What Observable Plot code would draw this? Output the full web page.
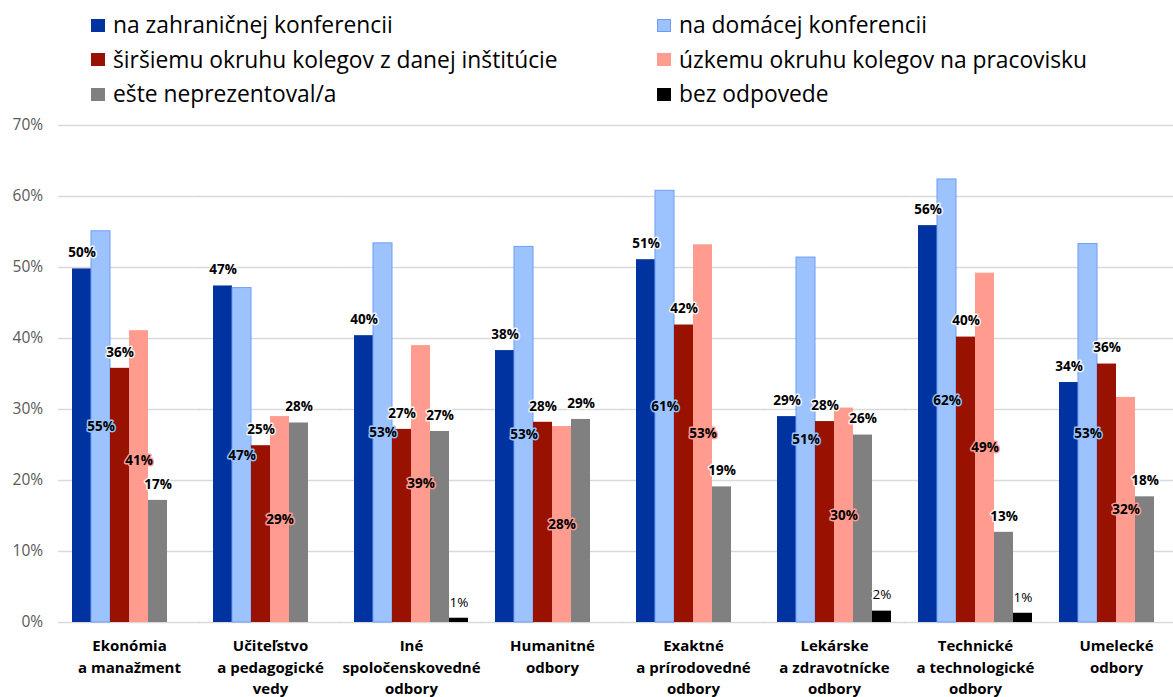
<!DOCTYPE html>
<html>
<head>
<meta charset="utf-8">
<script src="https://cdn.jsdelivr.net/npm/d3@7"></script>
<script src="https://cdn.jsdelivr.net/npm/@observablehq/plot@0.6"></script>
<style>
  html, body { margin: 0; padding: 0; background: #fff; overflow: hidden; }
  body { width: 1173px; height: 697px; position: relative; font-family: "Open Sans", sans-serif; }
  #legend { position: relative; height: 110px; width: 1173px; }
  .item { position: absolute; display: flex; align-items: center; font-size: 22.8px; color: #000; line-height: 34px; white-space: nowrap; }
  .sw { width: 14px; height: 13px; margin-right: 8px; box-sizing: border-box; }
  #chart { position: absolute; left: 0; top: 110px; }
  #chart svg { max-width: none !important; }
</style>
</head>
<body>
<div id="legend"></div>
<div id="chart"></div>
<script>
// ---- data ----
const categories = [
  "Ekonómia\na manažment",
  "Učiteľstvo\na pedagogické\nvedy",
  "Iné\nspoločenskovedné\nodbory",
  "Humanitné\nodbory",
  "Exaktné\na prírodovedné\nodbory",
  "Lekárske\na zdravotnícke\nodbory",
  "Technické\na technologické\nodbory",
  "Umelecké\nodbory"
];
const seriesNames = [
  "na zahraničnej konferencii",
  "na domácej konferencii",
  "širšiemu okruhu kolegov z danej inštitúcie",
  "úzkemu okruhu kolegov na pracovisku",
  "ešte neprezentoval/a",
  "bez odpovede"
];
const seriesColors = ["#0033a0", "#9dc3ff", "#991100", "#ff9b8f", "#808080", "#000000"];
const zahranicna    = [49.8, 47.4, 40.4, 38.3, 51.1, 29.0, 55.9, 33.8];
const domaca        = [55.1, 47.1, 53.4, 52.9, 60.8, 51.4, 62.4, 53.3];
const sirsiemu      = [35.8, 24.9, 27.2, 28.2, 41.9, 28.3, 40.2, 36.4];
const uzkemu        = [41.1, 29.0, 39.0, 27.6, 53.2, 30.2, 49.2, 31.7];
const neprezentoval = [17.2, 28.1, 26.9, 28.6, 19.1, 26.4, 12.7, 17.7];
const bezOdpovede   = [0, 0, 0.6, 0, 0, 1.6, 1.3, 0];
const yTicks = [0, 10, 20, 30, 40, 50, 60, 70];

const seriesValues = [zahranicna, domaca, sirsiemu, uzkemu, neprezentoval, bezOdpovede];
const rows = categories.flatMap((c, i) =>
  seriesNames.map((s, j) => ({cat: c, series: s, value: seriesValues[j][i]}))
);

// ---- legend ----
const legend = document.getElementById("legend");
seriesNames.forEach((s, j) => {
  const col = j % 2, row = Math.floor(j / 2);
  const el = document.createElement("div");
  el.className = "item";
  el.style.left = (col === 0 ? 91 : 657) + "px";
  el.style.top = (8 + row * 34.5) + "px";
  const sw = document.createElement("span");
  sw.className = "sw";
  sw.style.background = seriesColors[j];
  if (j === 1) sw.style.border = "1px solid #6f9cf5";
  el.appendChild(sw);
  const t = document.createElement("span");
  t.textContent = s;
  el.appendChild(t);
  legend.appendChild(el);
});

// ---- chart ----
const above = [seriesNames[0], seriesNames[2], seriesNames[4]];
const inside = [seriesNames[1], seriesNames[3]];
const colorOf = s => seriesColors[seriesNames.indexOf(s)];
// the one inside label that Excel lifted to avoid the neighbouring label
const lifted = d => d.cat === categories[0] && d.series === seriesNames[3];
const W = 1187, ML = 58;
const step = (W - ML) / categories.length;
const gap = step * 0.095 + 0.6; // half of the inner padding, so grid lines join across facets

const insideStyle = {
  fx: "cat", x: "series", y: d => d.value / 2, text: d => Math.round(d.value) + "%",
  fontWeight: "bold", fontSize: 13.5, fill: "#000", stroke: d => colorOf(d.series), strokeWidth: 3,
  paintOrder: "stroke", strokeLinejoin: "round"
};

const chart = Plot.plot({
  width: W,
  height: 592,
  marginLeft: ML,
  marginRight: 0,
  marginTop: 15,
  marginBottom: 80,
  style: {fontFamily: "Open Sans", fontSize: "13px", background: "transparent", maxWidth: "none"},
  fx: {domain: categories, paddingInner: 0.19, paddingOuter: 0.095, label: null, axis: null},
  x: {domain: seriesNames, padding: 0, axis: null},
  y: {domain: [0, 70], axis: null},
  color: {domain: seriesNames, range: seriesColors},
  marks: [
    Plot.ruleY(yTicks, {stroke: "#d9d9d9", strokeWidth: 1.3, insetLeft: -gap, insetRight: -gap}),
    Plot.axisY({ticks: yTicks, tickFormat: d => d + "%", tickSize: 0, tickPadding: step * 0.095 + 16,
      fill: "#595959", fontSize: 15.5, label: null}),
    Plot.barY(rows, {fx: "cat", x: "series", y: "value", fill: "series",
      stroke: d => d.series === seriesNames[1] ? "#6f9cf5" : "none", strokeWidth: 1}),
    Plot.text(rows.filter(d => above.includes(d.series)), {
      fx: "cat", x: "series", y: "value", text: d => Math.round(d.value) + "%", dy: -16,
      fontWeight: "bold", fontSize: 13.5, fill: "#000", stroke: "white", strokeWidth: 3,
      strokeOpacity: 0.85, paintOrder: "stroke", strokeLinejoin: "round"}),
    Plot.text(rows.filter(d => inside.includes(d.series) && !lifted(d)), insideStyle),
    Plot.text(rows.filter(d => lifted(d)), {...insideStyle, dy: -16}),
    Plot.text(rows.filter(d => d.series === seriesNames[5] && d.value > 0), {
      fx: "cat", x: "series", y: "value", text: d => Math.round(d.value) + "%", dy: -16,
      fontSize: 13.5, fill: "#000", stroke: "white", strokeWidth: 3, paintOrder: "stroke"}),
    Plot.text(categories, {fx: d => d, text: d => d, frameAnchor: "bottom", lineAnchor: "top",
      dy: 13, fontWeight: "bold", fontSize: 15, lineHeight: 1.45, fill: "#000"})
  ]
});
document.getElementById("chart").appendChild(chart);
</script>
</body>
</html>
